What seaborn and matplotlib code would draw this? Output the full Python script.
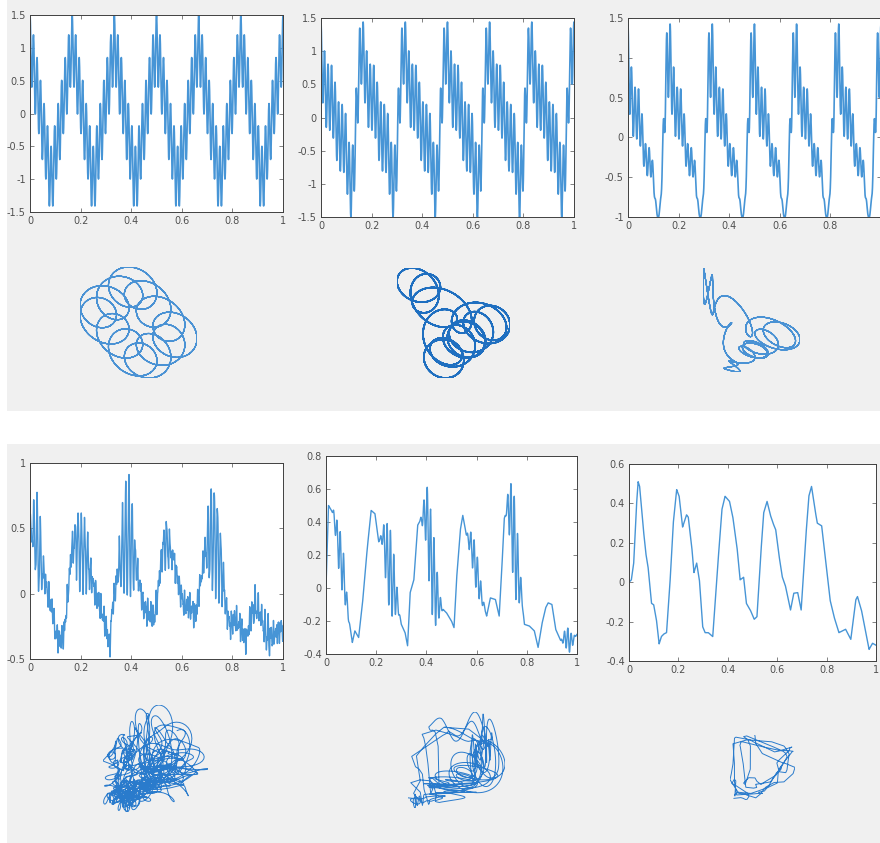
import numpy as np
import pandas as pd
import seaborn as sns
import matplotlib
matplotlib.use("Agg")
import matplotlib.pyplot as plt
from matplotlib.patches import Rectangle
from matplotlib.ticker import FuncFormatter

# ---- 上排：慢波(每单位6个周期) + 快波(慢波频率的12倍) ----
SLOW_CYCLES = 6
FAST_RATIO = 12
TL_K = [1, 3, 5]            # 三角波的谐波次数 (cos)
TL_AMP = [0.85, 0.10, 0.05]
SAW_K = [1, 2, 3]           # 锯齿波的谐波次数 (sin)
SAW_AMP = [0.70, 0.35, 0.23]
SAW_SHIFT = 0.14
FAST_AMP = [0.5, 0.5, 0.5]
TR_ENV_POWER = 1
TOP_DELAY = [0.045, 0.045, 0.045]
TOP_SHEAR = [-0.22, -0.2, -0.3]
TOP_YLIM = [(-1.5, 1.5), (-1.5, 1.5), (-1, 1.5)]
TOP_YTICKS = [[-1.5, -1, -0.5, 0, 0.5, 1, 1.5],
              [-1.5, -1, -0.5, 0, 0.5, 1, 1.5],
              [-1, -0.5, 0, 0.5, 1, 1.5]]

# ---- 下排：读取的平滑曲线 + 高频突发段 ----
BR_T = [0.0, 0.0095, 0.019, 0.030, 0.037, 0.043, 0.057, 0.068, 0.077, 0.091, 0.100, 0.111,
        0.122, 0.131, 0.141, 0.152, 0.165, 0.179, 0.193, 0.203, 0.217, 0.233, 0.240, 0.254,
        0.263, 0.274, 0.285, 0.298, 0.308, 0.321, 0.339, 0.355, 0.376, 0.389, 0.407, 0.420,
        0.437, 0.450, 0.464, 0.475, 0.491, 0.507, 0.518, 0.532, 0.545, 0.559, 0.572, 0.583,
        0.594, 0.606, 0.620, 0.633, 0.654, 0.667, 0.683, 0.697, 0.715, 0.728, 0.739, 0.751,
        0.762, 0.780, 0.796, 0.814, 0.830, 0.850, 0.877, 0.898, 0.918, 0.925, 0.941, 0.959,
        0.972, 0.986, 1.0]
BR_Y = [0.0, 0.012, 0.097, 0.385, 0.51, 0.486, 0.283, 0.147, 0.080, -0.107, -0.115, -0.19,
        -0.313, -0.276, -0.263, -0.256, -0.025, 0.297, 0.47, 0.436, 0.28, 0.342, 0.33, 0.181,
        0.049, 0.097, 0.012, -0.225, -0.256, -0.256, -0.276, 0.012, 0.368, 0.436, 0.41, 0.334,
        0.181, 0.012, 0.025, -0.107, -0.141, -0.188, -0.175, 0.114, 0.351, 0.41, 0.342, 0.30,
        0.266, 0.147, 0.029, -0.017, -0.141, -0.056, -0.053, -0.141, 0.215, 0.436, 0.486, 0.385,
        0.30, 0.286, 0.114, -0.09, -0.175, -0.256, -0.239, -0.29, -0.09, -0.073, -0.141, -0.259,
        -0.341, -0.31, -0.32]

BM_T = [0.0, 0.01, 0.03, 0.05, 0.07, 0.09, 0.105, 0.115, 0.13, 0.145, 0.155, 0.165, 0.18,
        0.195, 0.21, 0.225, 0.24, 0.26, 0.28, 0.30, 0.315, 0.325, 0.335, 0.35, 0.365, 0.38,
        0.40, 0.42, 0.44, 0.46, 0.48, 0.50, 0.51, 0.52, 0.535, 0.545, 0.56, 0.58, 0.60, 0.62,
        0.64, 0.655, 0.675, 0.69, 0.70, 0.71, 0.725, 0.74, 0.76, 0.78, 0.79, 0.81, 0.83, 0.845,
        0.86, 0.875, 0.885, 0.90, 0.915, 0.935, 0.955, 0.975, 1.0]
BM_Y = [0.0, 0.50, 0.45, 0.25, 0.08, -0.18, -0.33, -0.26, -0.30, -0.10, 0.08, 0.25, 0.47,
        0.45, 0.28, 0.32, 0.20, 0.08, -0.05, -0.22, -0.27, -0.35, -0.03, 0.05, 0.38, 0.42,
        0.45, 0.15, -0.05, -0.12, -0.15, -0.20, -0.24, 0.05, 0.35, 0.44, 0.32, 0.25, 0.10, -0.05,
        -0.17, -0.06, -0.07, -0.17, 0.10, 0.42, 0.50, 0.40, 0.15, -0.05, -0.22, -0.23, -0.26, -0.36,
        -0.22, -0.12, -0.09, -0.10, -0.25, -0.32, -0.30, -0.33, -0.28]
BM_BURSTS = [(0.02, 0.10, 0.15), (0.21, 0.30, 0.25), (0.37, 0.47, 0.28),
             (0.55, 0.64, 0.12), (0.71, 0.79, 0.28), (0.93, 1.0, 0.07)]

BL_T = [0.0, 0.02, 0.05, 0.07, 0.09, 0.10, 0.12, 0.135, 0.15, 0.165, 0.18, 0.20, 0.22, 0.24,
        0.26, 0.28, 0.30, 0.315, 0.325, 0.335, 0.35, 0.37, 0.39, 0.41, 0.43, 0.45, 0.47, 0.49,
        0.505, 0.52, 0.535, 0.55, 0.57, 0.59, 0.61, 0.63, 0.655, 0.675, 0.695, 0.72, 0.74, 0.76,
        0.775, 0.79, 0.81, 0.83, 0.855, 0.87, 0.89, 0.91, 0.93, 0.95, 0.97, 1.0]
BL_Y = [0.50, 0.45, 0.20, 0.0, -0.15, -0.30, -0.35, -0.30, 0.0, 0.35, 0.40, 0.35, 0.30, 0.15,
        0.0, -0.12, -0.25, -0.40, -0.10, 0.0, 0.20, 0.35, 0.45, 0.30, 0.10, -0.10, -0.15, -0.20,
        0.0, 0.30, 0.40, 0.35, 0.25, 0.05, -0.10, -0.10, -0.15, 0.10, 0.35, 0.45, 0.35, 0.15,
        -0.10, -0.25, -0.20, -0.25, -0.35, -0.20, -0.10, -0.15, -0.30, -0.35, -0.30, -0.25]
BL_BURSTS = [(0.0, 0.06, 0.40), (0.16, 0.25, 0.32), (0.34, 0.43, 0.48),
             (0.51, 0.58, 0.15), (0.68, 0.78, 0.44), (0.84, 1.0, 0.08)]
BL_TEXTURE_F = [97, 151, 233]
BL_TEXTURE_A = [0.05, 0.045, 0.035]
BURST_FREQ = [80, 75]
BOT_DELAY = [0.04, 0.03, 0.04]
BOT_YLIM = [(-0.5, 1), (-0.4, 0.8), (-0.4, 0.6)]
BOT_YTICKS = [[-0.5, 0, 0.5, 1],
              [-0.4, -0.2, 0, 0.2, 0.4, 0.6, 0.8],
              [-0.4, -0.2, 0, 0.2, 0.4, 0.6]]

# 像素位置 (左, 上, 右, 下)
TOP_AX = [(30, 15, 283, 212), (321, 18, 574, 217), (628, 18, 881, 217)]
BOT_AX = [(30, 463, 283, 659), (326, 456, 577, 654), (629, 464, 876, 661)]
TOP_LOOP = [(80, 267, 197, 378), (397, 268, 510, 378), (703, 268, 800, 372)]
BOT_LOOP = [(103, 705, 208, 812), (408, 712, 505, 808), (730, 735, 795, 800)]

W, H = 880, 843
N = 4000
t = np.linspace(0, 1, N + 1)
th = 2 * np.pi * SLOW_CYCLES * t

# 上排信号
tri = sum(a * np.cos(k * th) for k, a in zip(TL_K, TL_AMP))
saw = sum(a * np.sin(k * 2 * np.pi * SLOW_CYCLES * (t - SAW_SHIFT)) for k, a in zip(SAW_K, SAW_AMP))
fast = np.cos(FAST_RATIO * th)
top_sig = [tri + FAST_AMP[0] * fast,
           saw + FAST_AMP[1] * fast,
           saw + FAST_AMP[2] * ((1 + saw) / 2) ** TR_ENV_POWER * fast]


def bursts(base, blist, f):
    out = base.copy()
    for a0, a1, amp in blist:
        m = (t >= a0) & (t <= a1)
        w = np.sin(np.pi * (t[m] - a0) / (a1 - a0)) ** 2
        out[m] += amp * w * np.sin(2 * np.pi * f * t[m])
    return out


br = np.interp(t, BR_T, BR_Y)
bm = bursts(np.interp(t, BM_T, BM_Y), BM_BURSTS, BURST_FREQ[1])
bl = bursts(np.interp(t, BL_T, BL_Y), BL_BURSTS, BURST_FREQ[0])
bl = bl + sum(a * np.sin(2 * np.pi * f * t) for f, a in zip(BL_TEXTURE_F, BL_TEXTURE_A))
bot_sig = [bl, bm, br]

sns.set_style("ticks")
plt.rcParams['font.family'] = ['DejaVu Sans']
plt.rcParams['axes.unicode_minus'] = False

fig = plt.figure(figsize=(W / 100, H / 100), dpi=100)
fig.patch.set_facecolor('white')
fig.add_artist(Rectangle((7 / W, 1 - 411 / H), 873 / W, 411 / H, transform=fig.transFigure,
                         facecolor='#f0f0f0', edgecolor='none', zorder=0))
fig.add_artist(Rectangle((7 / W, 0), 873 / W, 1 - 444 / H, transform=fig.transFigure,
                         facecolor='#f0f0f0', edgecolor='none', zorder=0))


def box(l, tp, r, b):
    return [l / W, 1 - b / H, (r - l) / W, (b - tp) / H]


fmt = FuncFormatter(lambda v, p: f"{v:g}")
LINE = '#4795d6'


def signal_axes(pos, y, ylim, yticks, lw, xticks):
    ax = fig.add_axes(box(*pos))
    ax.set_facecolor('white')
    sns.lineplot(x=t, y=y, ax=ax, color=LINE, lw=lw, estimator=None, sort=False)
    ax.set_xlim(0, 1)
    ax.set_ylim(*ylim)
    ax.set_xticks(xticks)
    ax.set_yticks(yticks)
    ax.xaxis.set_major_formatter(fmt)
    ax.yaxis.set_major_formatter(fmt)
    ax.tick_params(direction='in', length=3, width=0.5, labelsize=7, colors='#505050',
                   top=True, right=True, pad=3)
    for s in ax.spines.values():
        s.set_color('#404040')
        s.set_linewidth(0.7)
    ax.set_xlabel('')
    ax.set_ylabel('')
    return ax


def loop_axes(pos, y, d, periodic, color, lw, k=0.0):
    ax = fig.add_axes(box(*pos))
    sh = int(round(d * N))
    if periodic:
        x0 = y[:N]
        y0 = np.roll(x0, -sh)
    else:
        x0 = y[:-sh]
        y0 = y[sh:]
    y0 = y0 + k * x0
    sns.lineplot(x=x0, y=y0, ax=ax, color=color, lw=lw, estimator=None, sort=False)
    ax.set_xlim(x0.min(), x0.max())
    ax.set_ylim(y0.min(), y0.max())
    ax.axis('off')


XT = [0, 0.2, 0.4, 0.6, 0.8, 1]
for i in range(3):
    signal_axes(TOP_AX[i], top_sig[i], TOP_YLIM[i], TOP_YTICKS[i], 1.2,
                XT if i < 2 else XT[:-1])
    signal_axes(BOT_AX[i], bot_sig[i], BOT_YLIM[i], BOT_YTICKS[i], 1.0, XT)

loop_axes(TOP_LOOP[0], top_sig[0], TOP_DELAY[0], True, '#4a92d4', 0.8, TOP_SHEAR[0])
loop_axes(TOP_LOOP[1], top_sig[1], TOP_DELAY[1], True, '#1f6fc0', 1.1, TOP_SHEAR[1])
loop_axes(TOP_LOOP[2], top_sig[2], TOP_DELAY[2], True, '#4a92d4', 0.8, TOP_SHEAR[2])
for i in range(3):
    loop_axes(BOT_LOOP[i], bot_sig[i], BOT_DELAY[i], False, '#2a7bcc', 0.7)

fig.savefig('out.png', dpi=100, facecolor='white')
